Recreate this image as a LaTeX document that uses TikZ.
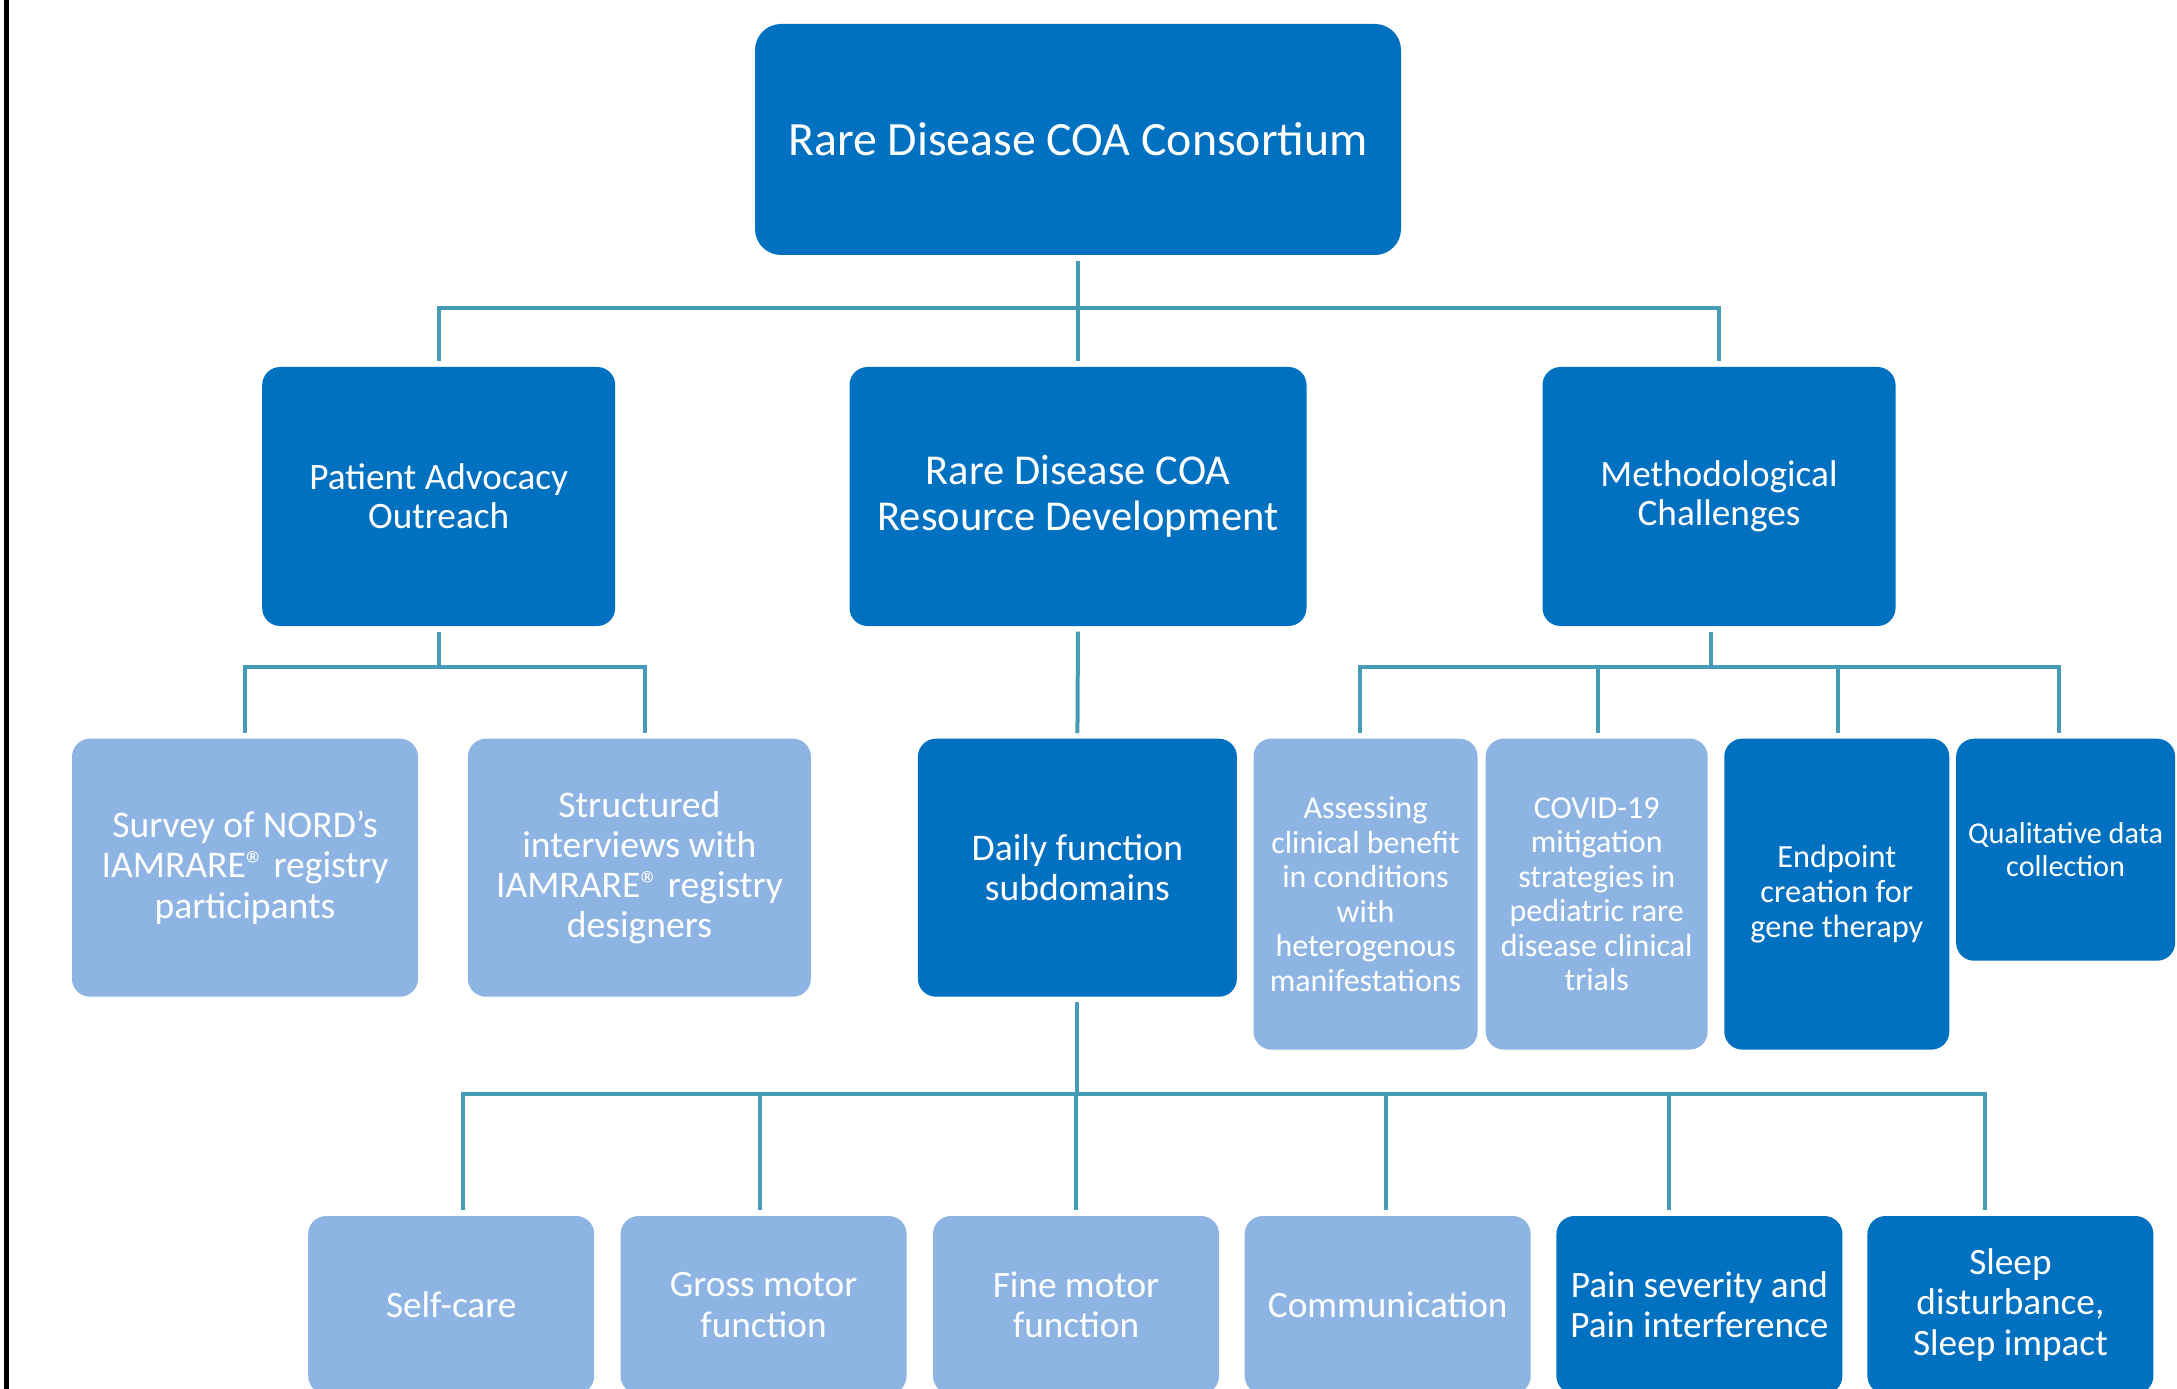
\documentclass[tikz,border=0pt]{standalone}
\usepackage{fontspec}
\setmainfont{Carlito}
\usepackage{xcolor}
\usetikzlibrary{positioning}
\definecolor{darkbox}{RGB}{0,112,192}
\definecolor{lightbox}{RGB}{142,180,227}
\definecolor{linkteal}{RGB}{70,156,182}
\newcommand{\boxfont}[2]{\fontsize{#1}{#2}\selectfont}

\begin{document}
\begin{tikzpicture}[dbox/.style={fill=darkbox, text=white, rounded corners=1.8mm, align=center, inner sep=0pt},
	lbox/.style={fill=lightbox, text=white, rounded corners=1.8mm, align=center, inner sep=0pt},
	link/.style={draw=linkteal, line width=0.4mm, shorten >=0.05cm, shorten <=0.05cm}]
			\useasboundingbox (0,0) rectangle (21.77,-13.89);
			\draw[line width=0.5mm] (0.066,0) -- (0.066,-13.89);
			
			\node[dbox, minimum width=64.6mm, minimum height=23.1mm, rounded corners=2.6mm, font=\boxfont{13.6}{16}] at (10.78, -1.395) (consortium) {Rare Disease COA Consortium};
			
			\node[dbox, minimum width=35.3mm, minimum height=25.9mm, font=\boxfont{10.6}{11.1}] at (4.387, -4.965) (advocacy) {Patient Advocacy\\Outreach};
			\node[dbox, minimum width=45.7mm, minimum height=25.9mm, font=\boxfont{12.1}{13.1}] at (10.78, -4.965) (resource) {Rare Disease COA\\Resource Development};
			\node[dbox, minimum width=35.3mm, minimum height=25.9mm, font=\boxfont{10.6}{11.1}] at (17.19, -4.965) (method) {Methodological\\Challenges};
			
			\node[lbox, minimum width=34.6mm, minimum height=25.8mm, font=\boxfont{10.7}{11.4}] at (2.45, -8.677) (survey) {Survey of NORD’s\\IAMRARE® registry\\participants};
			\node[lbox, minimum width=34.3mm, minimum height=25.8mm, font=\boxfont{10.7}{11.4}] at (6.394, -8.677) (interviews) {Structured\\interviews with\\IAMRARE® registry\\designers};
			\node[dbox, minimum width=31.9mm, minimum height=25.8mm, font=\boxfont{10.7}{11.4}] at (10.774, -8.677) (daily) {Daily function\\subdomains};
			
			\node[lbox, minimum width=22.4mm, minimum height=31.1mm, font=\boxfont{9.1}{9.8}] at (13.655, -8.941) (assess) {Assessing\\clinical benefit\\in conditions\\with\\heterogenous\\manifestations};
			\node[lbox, minimum width=22.2mm, minimum height=31.1mm, font=\boxfont{9.1}{9.8}] at (15.967, -8.941) (covid) {COVID-19\\mitigation\\strategies in\\pediatric rare\\disease clinical\\trials};
			\node[dbox, minimum width=22.5mm, minimum height=31.1mm, font=\boxfont{9.2}{10}] at (18.368, -8.941) (endpoint) {Endpoint\\creation for\\gene therapy};
			\node[dbox, minimum width=21.9mm, minimum height=22.2mm, font=\boxfont{8.6}{9.4}] at (20.656, -8.497) (qual) {Qualitative data\\collection};
			
			\node[lbox, minimum width=28.6mm, minimum height=17.8mm, font=\boxfont{10.6}{11.4}] at (4.512, -13.05) (selfcare) {Self-care};
			\node[lbox, minimum width=28.6mm, minimum height=17.8mm, font=\boxfont{10.6}{11.4}] at (7.636, -13.05) (gross) {Gross motor\\function};
			\node[lbox, minimum width=28.6mm, minimum height=17.8mm, font=\boxfont{10.6}{11.4}] at (10.76, -13.05) (fine) {Fine motor\\function};
			\node[lbox, minimum width=28.6mm, minimum height=17.8mm, font=\boxfont{10.6}{11.4}] at (13.877, -13.05) (comm) {Communication};
			\node[dbox, minimum width=28.6mm, minimum height=17.8mm, font=\boxfont{10.6}{11.4}] at (16.994, -13.05) (pain) {Pain severity and\\Pain interference};
			\node[dbox, minimum width=28.6mm, minimum height=17.8mm, font=\boxfont{10.6}{11.4}] at (20.104, -13.05) (sleep) {Sleep\\disturbance,\\Sleep impact};
			
			\draw[link] (consortium.south) -- ++(0,-0.52) -| (advocacy.north);
			\draw[link] (consortium.south) -- ++(0,-0.52) -| (method.north);
			\draw[link] (consortium.south) -- (resource.north);
			
			\draw[link] (advocacy.south) -- ++(0,-0.40) -| (survey.north);
			\draw[link] (advocacy.south) -- ++(0,-0.40) -| ([xshift=0.6mm]interviews.north);
			\draw[link] (resource.south) -- (daily.north);
			\foreach \n/\dx in {assess/-0.6, covid/0.1, endpoint/0.1, qual/-0.7}
				\draw[link] ([xshift=-0.8mm]method.south) -- ++(0,-0.40) -| ([xshift=\dx mm]\n.north);
			\foreach \n/\dx in {selfcare/1.2, gross/-0.4, fine/0, comm/-0.2, pain/-3, sleep/-2.5}
				\draw[link] (daily.south) -- ++(0,-0.97) -| ([xshift=\dx mm]\n.north);
			
		\end{tikzpicture}
\end{document}
